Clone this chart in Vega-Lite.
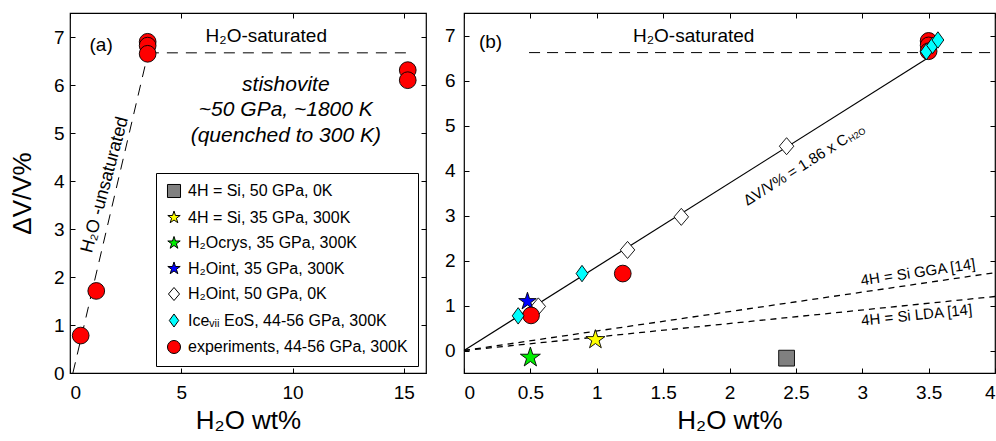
{
  "$schema": "https://vega.github.io/schema/vega-lite/v6.json",
  "padding": {"left": 8, "top": 11, "right": 0, "bottom": 0},
  "spacing": 15,
  "resolve": {"scale": {"fill": "independent", "shape": "independent", "size": "independent"}, "legend": {"fill": "independent", "shape": "independent", "size": "independent"}},
  "config": {
    "font": "Liberation Sans",
    "view": {"stroke": "black", "strokeWidth": 1.2},
    "axis": {
      "domain": false,
      "grid": false,
      "ticks": true,
      "tickSize": -5,
      "tickColor": "black",
      "tickWidth": 1,
      "labelFont": "Liberation Sans",
      "labelFontSize": 19,
      "labelColor": "black",
      "titleFont": "Liberation Sans",
      "titleFontSize": 26,
      "titleFontWeight": "normal",
      "titleColor": "black"
    },
    "text": {"font": "Liberation Sans", "color": "black"}
  },
  "datasets": {
    "points": [
      {"panel": "a", "series": "experiments, 44-56 GPa, 300K", "x": 0.48, "y": 0.78},
      {"panel": "a", "series": "experiments, 44-56 GPa, 300K", "x": 1.18, "y": 1.71},
      {"panel": "a", "series": "experiments, 44-56 GPa, 300K", "x": 3.49, "y": 6.9},
      {"panel": "a", "series": "experiments, 44-56 GPa, 300K", "x": 3.49, "y": 6.82},
      {"panel": "a", "series": "experiments, 44-56 GPa, 300K", "x": 3.49, "y": 6.65},
      {"panel": "a", "series": "experiments, 44-56 GPa, 300K", "x": 15.18, "y": 6.31},
      {"panel": "a", "series": "experiments, 44-56 GPa, 300K", "x": 15.18, "y": 6.1},
      {"panel": "b", "series": "H₂Oint, 50 GPa, 0K", "x": 0.56, "y": 0.98},
      {"panel": "b", "series": "H₂Oint, 50 GPa, 0K", "x": 1.232, "y": 2.235},
      {"panel": "b", "series": "H₂Oint, 50 GPa, 0K", "x": 1.637, "y": 2.97},
      {"panel": "b", "series": "H₂Oint, 50 GPa, 0K", "x": 2.43, "y": 4.54},
      {"panel": "b", "series": "4H = Si, 50 GPa, 0K", "x": 2.43, "y": -0.17},
      {"panel": "b", "series": "4H = Si, 35 GPa, 300K", "x": 0.99, "y": 0.24},
      {"panel": "b", "series": "H₂Ocrys, 35 GPa, 300K", "x": 0.5, "y": -0.155},
      {"panel": "b", "series": "H₂Oint, 35 GPa, 300K", "x": 0.478, "y": 1.09},
      {"panel": "b", "series": "experiments, 44-56 GPa, 300K", "x": 0.505, "y": 0.78},
      {"panel": "b", "series": "experiments, 44-56 GPa, 300K", "x": 1.196, "y": 1.71},
      {"panel": "b", "series": "experiments, 44-56 GPa, 300K", "x": 3.5, "y": 6.88},
      {"panel": "b", "series": "experiments, 44-56 GPa, 300K", "x": 3.5, "y": 6.78},
      {"panel": "b", "series": "experiments, 44-56 GPa, 300K", "x": 3.5, "y": 6.65},
      {"panel": "b", "series": "Iceᵥᵢᵢ EoS, 44-56  GPa, 300K", "x": 0.408, "y": 0.77},
      {"panel": "b", "series": "Iceᵥᵢᵢ EoS, 44-56  GPa, 300K", "x": 0.889, "y": 1.71},
      {"panel": "b", "series": "Iceᵥᵢᵢ EoS, 44-56  GPa, 300K", "x": 3.483, "y": 6.64},
      {"panel": "b", "series": "Iceᵥᵢᵢ EoS, 44-56  GPa, 300K", "x": 3.53, "y": 6.78},
      {"panel": "b", "series": "Iceᵥᵢᵢ EoS, 44-56  GPa, 300K", "x": 3.57, "y": 6.9}
    ],
    "lines": [
      {"panel": "a", "style": "long", "line": "unsat", "x": 0.13, "y": 0},
      {"panel": "a", "style": "long", "line": "unsat", "x": 3.5, "y": 6.65},
      {"panel": "a", "style": "long", "line": "sat", "x": 3.5, "y": 6.67},
      {"panel": "a", "style": "long", "line": "sat", "x": 15.2, "y": 6.67},
      {"panel": "b", "style": "long", "line": "sat", "x": 0.49, "y": 6.62},
      {"panel": "b", "style": "long", "line": "sat", "x": 4, "y": 6.62},
      {"panel": "b", "style": "short", "line": "gga", "x": 0, "y": 0},
      {"panel": "b", "style": "short", "line": "gga", "x": 4, "y": 1.73},
      {"panel": "b", "style": "short", "line": "lda", "x": 0, "y": 0},
      {"panel": "b", "style": "short", "line": "lda", "x": 4, "y": 1.2},
      {"panel": "b", "style": "solid", "line": "fit", "x": 0, "y": 0},
      {"panel": "b", "style": "solid", "line": "fit", "x": 3.5, "y": 6.51}
    ],
    "labels": [
      {"panel": "a", "kind": "plain", "text": "(a)", "x": 1.4, "y": 6.83},
      {"panel": "a", "kind": "plain", "text": "H₂O-saturated", "x": 8.82, "y": 7.03},
      {"panel": "a", "kind": "italic", "text": "stishovite", "x": 9.7, "y": 5.99},
      {"panel": "a", "kind": "italic", "text": "~50 GPa, ~1800 K", "x": 9.7, "y": 5.47},
      {"panel": "a", "kind": "italic", "text": "(quenched to 300 K)", "x": 9.7, "y": 4.93},
      {"panel": "a", "kind": "unsat", "text": "H₂O -unsaturated", "x": 1.58, "y": 3.92},
      {"panel": "b", "kind": "plain", "text": "(b)", "x": 0.2, "y": 6.86},
      {"panel": "b", "kind": "plain", "text": "H₂O-saturated", "x": 1.73, "y": 6.98},
      {"panel": "b", "kind": "eq", "text": "ΔV/V% = 1.86 x C", "x": 2.5, "y": 4.02},
      {"panel": "b", "kind": "eqsub", "text": "H2O", "x": 2.96, "y": 4.79},
      {"panel": "b", "kind": "gga", "text": "4H = Si GGA [14]", "x": 3.42, "y": 1.74},
      {"panel": "b", "kind": "lda", "text": "4H = Si LDA [14]", "x": 3.41, "y": 0.79}
    ]
  },
  "hconcat": [
    {
      "width": 356,
      "height": 360,
      "resolve": {"axis": {"x": "independent", "y": "independent"}},
      "layer": [
        {
          "data": {"name": "lines"},
          "transform": [{"filter": "datum.panel === 'a'"}],
          "mark": {"type": "line", "color": "black", "strokeWidth": 1, "strokeDash": [11, 8]},
          "encoding": {
            "detail": {"field": "line"},
            "x": {"field": "x", "type": "quantitative", "scale": {"domain": [0, 16], "nice": false, "zero": false},
              "axis": {"values": [0, 5, 10, 15], "title": "H₂O wt%", "labelPadding": 15, "titlePadding": 5}},
            "y": {"field": "y", "type": "quantitative", "scale": {"domain": [0, 7.5], "nice": false, "zero": false},
              "axis": {"values": [0, 1, 2, 3, 4, 5, 6, 7], "title": "ΔV/V%", "labelPadding": 11, "titlePadding": 18}}
          }
        },
        {
          "data": {"name": "points"},
          "transform": [{"filter": "datum.panel === 'a'"}],
          "mark": {"type": "point", "filled": true, "opacity": 1, "stroke": "black", "strokeWidth": 0.9},
          "encoding": {
            "x": {"field": "x", "type": "quantitative", "scale": {"domain": [0, 16], "nice": false, "zero": false},
              "axis": {"orient": "top", "values": [0, 5, 10, 15], "labels": false, "title": null}},
            "y": {"field": "y", "type": "quantitative", "scale": {"domain": [0, 7.5], "nice": false, "zero": false},
              "axis": {"orient": "right", "values": [0, 1, 2, 3, 4, 5, 6, 7], "labels": false, "title": null}},
            "fill": {"field": "series", "type": "nominal",
              "scale": {
                "domain": ["4H = Si, 50 GPa, 0K", "4H = Si, 35 GPa, 300K", "H₂Ocrys, 35 GPa, 300K", "H₂Oint, 35 GPa, 300K", "H₂Oint, 50 GPa, 0K", "Iceᵥᵢᵢ EoS, 44-56  GPa, 300K", "experiments, 44-56 GPa, 300K"],
                "range": ["#808080", "#ffff00", "#00ee00", "#0000ff", "#ffffff", "#00ffff", "#ff0000"]
              },
              "legend": {
                "orient": "none", "legendX": 86, "legendY": 160, "title": null,
                "strokeColor": "black", "fillColor": "white", "padding": 10,
                "labelFontSize": 16, "labelFont": "Liberation Sans", "labelColor": "black", "labelLimit": 400,
                "symbolSize": 170, "symbolStrokeColor": "black", "symbolStrokeWidth": 1,
                "rowPadding": 8.5, "labelOffset": 6
              }
            },
            "shape": {"field": "series", "type": "nominal",
              "scale": {
                "domain": ["4H = Si, 50 GPa, 0K", "4H = Si, 35 GPa, 300K", "H₂Ocrys, 35 GPa, 300K", "H₂Oint, 35 GPa, 300K", "H₂Oint, 50 GPa, 0K", "Iceᵥᵢᵢ EoS, 44-56  GPa, 300K", "experiments, 44-56 GPa, 300K"],
                "range": ["square",
                  "M0,-1L0.2245,-0.309L0.951,-0.309L0.363,0.118L0.588,0.809L0,0.382L-0.588,0.809L-0.363,0.118L-0.951,-0.309L-0.2245,-0.309Z",
                  "M0,-1L0.2245,-0.309L0.951,-0.309L0.363,0.118L0.588,0.809L0,0.382L-0.588,0.809L-0.363,0.118L-0.951,-0.309L-0.2245,-0.309Z",
                  "M0,-1L0.2245,-0.309L0.951,-0.309L0.363,0.118L0.588,0.809L0,0.382L-0.588,0.809L-0.363,0.118L-0.951,-0.309L-0.2245,-0.309Z",
                  "M0,-1L0.85,0L0,1L-0.85,0Z",
                  "M0,-1L0.72,0L0,1L-0.72,0Z",
                  "circle"]
              }
            },
            "size": {"field": "series", "type": "nominal", "legend": null,
              "scale": {
                "type": "ordinal",
                "domain": ["experiments, 44-56 GPa, 300K", "4H = Si, 50 GPa, 0K", "4H = Si, 35 GPa, 300K", "H₂Ocrys, 35 GPa, 300K", "H₂Oint, 35 GPa, 300K", "H₂Oint, 50 GPa, 0K", "Iceᵥᵢᵢ EoS, 44-56  GPa, 300K"],
                "range": [280, 250, 400, 440, 340, 290, 270]
              }
            }
          }
        },
        {
          "data": {"name": "labels"},
          "transform": [{"filter": "datum.panel === 'a' && datum.kind === 'plain'"}],
          "mark": {"type": "text", "fontSize": 19, "align": "center", "baseline": "middle"},
          "encoding": {
            "x": {"field": "x", "type": "quantitative", "axis": null},
            "y": {"field": "y", "type": "quantitative", "axis": null},
            "text": {"field": "text"}
          }
        },
        {
          "data": {"name": "labels"},
          "transform": [{"filter": "datum.panel === 'a' && datum.kind === 'italic'"}],
          "mark": {"type": "text", "fontSize": 21, "fontStyle": "italic", "align": "center", "baseline": "middle"},
          "encoding": {
            "x": {"field": "x", "type": "quantitative", "axis": null},
            "y": {"field": "y", "type": "quantitative", "axis": null},
            "text": {"field": "text"}
          }
        },
        {
          "data": {"name": "labels"},
          "transform": [{"filter": "datum.panel === 'a' && datum.kind === 'unsat'"}],
          "mark": {"type": "text", "fontSize": 18, "angle": -75, "align": "center", "baseline": "middle"},
          "encoding": {
            "x": {"field": "x", "type": "quantitative", "axis": null},
            "y": {"field": "y", "type": "quantitative", "axis": null},
            "text": {"field": "text"}
          }
        }
      ]
    },
    {
      "width": 531,
      "height": 360,
      "resolve": {"axis": {"x": "independent", "y": "independent"}},
      "layer": [
        {
          "data": {"name": "lines"},
          "transform": [{"filter": "datum.panel === 'b' && datum.style === 'long'"}],
          "mark": {"type": "line", "color": "black", "strokeWidth": 1, "strokeDash": [11, 7]},
          "encoding": {
            "detail": {"field": "line"},
            "x": {"field": "x", "type": "quantitative", "scale": {"domain": [0, 4], "nice": false, "zero": false},
              "axis": {"values": [0, 0.5, 1, 1.5, 2, 2.5, 3, 3.5, 4], "format": "~g", "title": "H₂O wt%", "labelPadding": 15, "titlePadding": 5}},
            "y": {"field": "y", "type": "quantitative", "scale": {"domain": [-0.5, 7.5], "nice": false, "zero": false},
              "axis": {"values": [0, 1, 2, 3, 4, 5, 6, 7], "title": null, "labelPadding": 14}}
          }
        },
        {
          "data": {"name": "lines"},
          "transform": [{"filter": "datum.panel === 'b' && datum.style === 'short'"}],
          "mark": {"type": "line", "color": "black", "strokeWidth": 1.3, "strokeDash": [6, 5]},
          "encoding": {
            "detail": {"field": "line"},
            "x": {"field": "x", "type": "quantitative", "scale": {"domain": [0, 4], "nice": false, "zero": false},
              "axis": {"orient": "top", "values": [0, 0.5, 1, 1.5, 2, 2.5, 3, 3.5, 4], "labels": false, "title": null}},
            "y": {"field": "y", "type": "quantitative", "scale": {"domain": [-0.5, 7.5], "nice": false, "zero": false},
              "axis": {"orient": "right", "values": [0, 1, 2, 3, 4, 5, 6, 7], "labels": false, "title": null}}
          }
        },
        {
          "data": {"name": "lines"},
          "transform": [{"filter": "datum.panel === 'b' && datum.style === 'solid'"}],
          "mark": {"type": "line", "color": "black", "strokeWidth": 1.2},
          "encoding": {
            "detail": {"field": "line"},
            "x": {"field": "x", "type": "quantitative", "axis": null},
            "y": {"field": "y", "type": "quantitative", "axis": null}
          }
        },
        {
          "data": {"name": "points"},
          "transform": [{"filter": "datum.panel === 'b'"}],
          "mark": {"type": "point", "filled": true, "opacity": 1, "stroke": "black", "strokeWidth": 0.9},
          "encoding": {
            "x": {"field": "x", "type": "quantitative", "axis": null},
            "y": {"field": "y", "type": "quantitative", "axis": null},
            "fill": {"field": "series", "type": "nominal", "legend": null,
              "scale": {
                "domain": ["4H = Si, 50 GPa, 0K", "4H = Si, 35 GPa, 300K", "H₂Ocrys, 35 GPa, 300K", "H₂Oint, 35 GPa, 300K", "H₂Oint, 50 GPa, 0K", "Iceᵥᵢᵢ EoS, 44-56  GPa, 300K", "experiments, 44-56 GPa, 300K"],
                "range": ["#808080", "#ffff00", "#00ee00", "#0000ff", "#ffffff", "#00ffff", "#ff0000"]
              }
            },
            "shape": {"field": "series", "type": "nominal", "legend": null,
              "scale": {
                "domain": ["4H = Si, 50 GPa, 0K", "4H = Si, 35 GPa, 300K", "H₂Ocrys, 35 GPa, 300K", "H₂Oint, 35 GPa, 300K", "H₂Oint, 50 GPa, 0K", "Iceᵥᵢᵢ EoS, 44-56  GPa, 300K", "experiments, 44-56 GPa, 300K"],
                "range": ["square",
                  "M0,-1L0.2245,-0.309L0.951,-0.309L0.363,0.118L0.588,0.809L0,0.382L-0.588,0.809L-0.363,0.118L-0.951,-0.309L-0.2245,-0.309Z",
                  "M0,-1L0.2245,-0.309L0.951,-0.309L0.363,0.118L0.588,0.809L0,0.382L-0.588,0.809L-0.363,0.118L-0.951,-0.309L-0.2245,-0.309Z",
                  "M0,-1L0.2245,-0.309L0.951,-0.309L0.363,0.118L0.588,0.809L0,0.382L-0.588,0.809L-0.363,0.118L-0.951,-0.309L-0.2245,-0.309Z",
                  "M0,-1L0.85,0L0,1L-0.85,0Z",
                  "M0,-1L0.72,0L0,1L-0.72,0Z",
                  "circle"]
              }
            },
            "size": {"field": "series", "type": "nominal", "legend": null,
              "scale": {
                "type": "ordinal",
                "domain": ["experiments, 44-56 GPa, 300K", "4H = Si, 50 GPa, 0K", "4H = Si, 35 GPa, 300K", "H₂Ocrys, 35 GPa, 300K", "H₂Oint, 35 GPa, 300K", "H₂Oint, 50 GPa, 0K", "Iceᵥᵢᵢ EoS, 44-56  GPa, 300K"],
                "range": [280, 250, 400, 440, 340, 290, 270]
              }
            }
          }
        },
        {
          "data": {"name": "labels"},
          "transform": [{"filter": "datum.panel === 'b' && datum.kind === 'plain'"}],
          "mark": {"type": "text", "fontSize": 19, "align": "center", "baseline": "middle"},
          "encoding": {
            "x": {"field": "x", "type": "quantitative", "axis": null},
            "y": {"field": "y", "type": "quantitative", "axis": null},
            "text": {"field": "text"}
          }
        },
        {
          "data": {"name": "labels"},
          "transform": [{"filter": "datum.panel === 'b' && datum.kind === 'eq'"}],
          "mark": {"type": "text", "fontSize": 15, "angle": -32.3, "align": "center", "baseline": "middle"},
          "encoding": {
            "x": {"field": "x", "type": "quantitative", "axis": null},
            "y": {"field": "y", "type": "quantitative", "axis": null},
            "text": {"field": "text"}
          }
        },
        {
          "data": {"name": "labels"},
          "transform": [{"filter": "datum.panel === 'b' && datum.kind === 'eqsub'"}],
          "mark": {"type": "text", "fontSize": 9, "angle": -32.3, "align": "center", "baseline": "middle"},
          "encoding": {
            "x": {"field": "x", "type": "quantitative", "axis": null},
            "y": {"field": "y", "type": "quantitative", "axis": null},
            "text": {"field": "text"}
          }
        },
        {
          "data": {"name": "labels"},
          "transform": [{"filter": "datum.panel === 'b' && datum.kind === 'gga'"}],
          "mark": {"type": "text", "fontSize": 15, "angle": -8.35, "align": "center", "baseline": "middle"},
          "encoding": {
            "x": {"field": "x", "type": "quantitative", "axis": null},
            "y": {"field": "y", "type": "quantitative", "axis": null},
            "text": {"field": "text"}
          }
        },
        {
          "data": {"name": "labels"},
          "transform": [{"filter": "datum.panel === 'b' && datum.kind === 'lda'"}],
          "mark": {"type": "text", "fontSize": 15, "angle": -5.8, "align": "center", "baseline": "middle"},
          "encoding": {
            "x": {"field": "x", "type": "quantitative", "axis": null},
            "y": {"field": "y", "type": "quantitative", "axis": null},
            "text": {"field": "text"}
          }
        }
      ]
    }
  ]
}
